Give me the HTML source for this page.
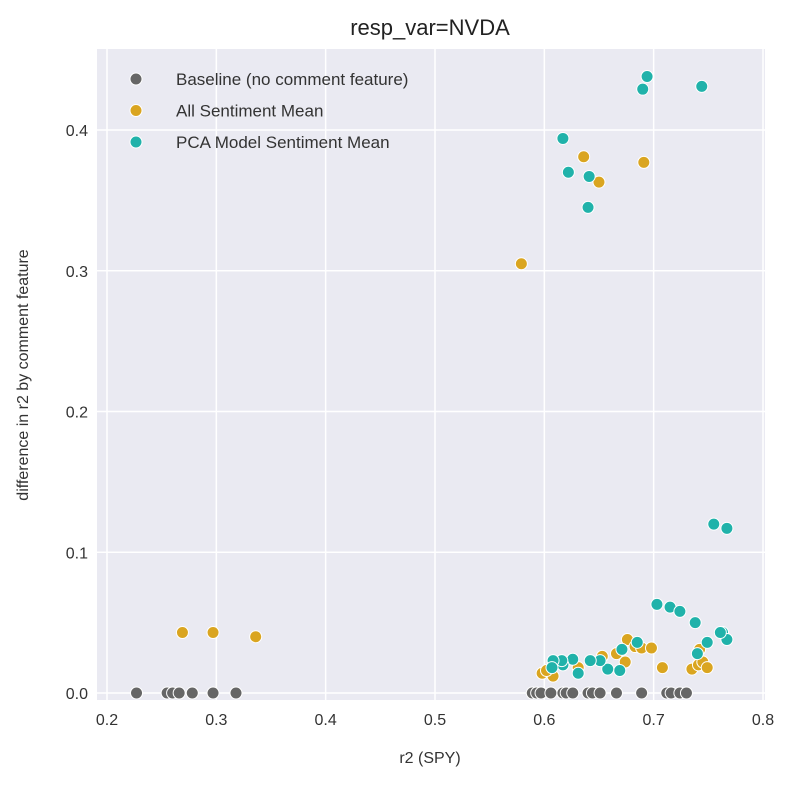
<!DOCTYPE html>
<html><head><meta charset="utf-8"><style>
html,body{margin:0;padding:0;background:#fff;}
svg text{font-family:"Liberation Sans",sans-serif;fill:#333;}
</style></head><body>
<svg id="chart" width="788" height="781" xmlns="http://www.w3.org/2000/svg">
<rect x="97" y="49" width="668" height="651" fill="#eaeaf2"/>
<g id="grid"></g>
<g id="ticks"></g>
<g id="marks"></g>
<text x="430" y="35" text-anchor="middle" font-size="22" style="fill:#222">resp_var=NVDA</text>
<text x="430" y="763" text-anchor="middle" font-size="16">r2 (SPY)</text>
<text transform="translate(28,375) rotate(-90)" text-anchor="middle" font-size="16">difference in r2 by comment feature</text>
<g id="legend"></g>
</svg>
<script>
const xTicks=[0.2,0.3,0.4,0.5,0.6,0.7,0.8];
const yTicks=[0.0,0.1,0.2,0.3,0.4];
const seriesNames=["Baseline (no comment feature)","All Sentiment Mean","PCA Model Sentiment Mean"];
const seriesColors=["#666666","#DAA520","#20B2AA"];
const baseX=[0.227,0.255,0.260,0.266,0.278,0.297,0.318,0.589,0.593,0.597,0.606,0.617,0.620,0.626,0.640,0.644,0.651,0.666,0.689,0.712,0.716,0.724,0.730];
const baseY=[0,0,0,0,0,0,0,0,0,0,0,0,0,0,0,0,0,0,0,0,0,0,0];
const allX=[0.579,0.636,0.650,0.691,0.269,0.297,0.336,0.598,0.608,0.602,0.631,0.653,0.666,0.674,0.676,0.683,0.689,0.698,0.708,0.735,0.741,0.745,0.749,0.742];
const allY=[0.305,0.381,0.363,0.377,0.043,0.043,0.040,0.014,0.012,0.016,0.018,0.026,0.028,0.022,0.038,0.033,0.032,0.032,0.018,0.017,0.020,0.022,0.018,0.031];
const pcaX=[0.617,0.622,0.640,0.641,0.690,0.694,0.744,0.755,0.767,0.703,0.715,0.724,0.738,0.763,0.767,0.761,0.749,0.740,0.685,0.671,0.669,0.658,0.651,0.642,0.631,0.626,0.617,0.616,0.608,0.607];
const pcaY=[0.394,0.370,0.345,0.367,0.429,0.438,0.431,0.120,0.117,0.063,0.061,0.058,0.050,0.043,0.038,0.043,0.036,0.028,0.036,0.031,0.016,0.017,0.023,0.023,0.014,0.024,0.020,0.023,0.023,0.018];

const NS="http://www.w3.org/2000/svg";
function xs(v){return 107+(v-0.2)*1093.3;}
function ys(v){return 693-v*1407.5;}
function mk(t,a,p){const e=document.createElementNS(NS,t);for(const k in a)e.setAttribute(k,a[k]);p.appendChild(e);return e;}
const grid=document.getElementById('grid'),ticks=document.getElementById('ticks');
xTicks.forEach(v=>{
 const l=mk('line',{x1:xs(v),x2:xs(v),y1:49,y2:700,stroke:'#fff','stroke-width':1.5},grid);
 
 
 const t=mk('text',{x:xs(v),y:725,'text-anchor':'middle','font-size':16},ticks);
 t.textContent=v.toFixed(1);
 
 
});
yTicks.forEach(v=>{
 const l=mk('line',{x1:97,x2:765,y1:ys(v),y2:ys(v),stroke:'#fff','stroke-width':1.5},grid);
 
 
 const t=mk('text',{x:88,y:ys(v)+6,'text-anchor':'end','font-size':16},ticks);
 t.textContent=v.toFixed(1);
 
 
});
const marks=document.getElementById('marks');
[[baseX,baseY],[allX,allY],[pcaX,pcaY]].forEach((s,i)=>{
 s[0].forEach((x,j)=>{
  const c=mk('circle',{cx:xs(x),cy:ys(s[1][j]),r:6,fill:seriesColors[i],stroke:'#fff','stroke-width':1},marks);
  
  
 });
});
const lg=document.getElementById('legend');
seriesNames.forEach((n,i)=>{
 const y=79+i*31.5;
 const c=mk('circle',{cx:136,cy:y,r:6,fill:seriesColors[i],stroke:'#fff','stroke-width':1},lg);
 
 
 const t=mk('text',{x:176,y:y+6,'font-size':17},lg);
 t.textContent=n;
 
 
});
</script>
</body></html>
